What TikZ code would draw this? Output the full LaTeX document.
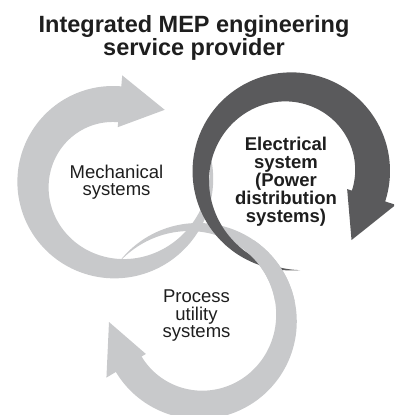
\documentclass[tikz,border=0pt]{standalone}
\usepackage{fontspec}
\setmainfont{Liberation Sans}
\definecolor{ringlight}{HTML}{C8C9CB}
\definecolor{ringdark}{HTML}{5A5A5C}
\definecolor{inktext}{HTML}{1E1E1E}

% Tapered circular arrow:
% #1 fill colour, #2 cx, #3 cy, #4 outer radius, #5 full width,
% #6 tail angle, #7 head angle, #8 outward drift of the thin tail
\newcommand\swirlarrow[8]{%
  \begin{scope}[shift={(#2,#3)}]
  \fill[#1]
    plot[domain=#6:#7, samples=140, variable=\t]
      ({(#4+#8*(1-(\t-#6)/(#7-#6))*(1-(\t-#6)/(#7-#6)))*cos(\t)},
       {(#4+#8*(1-(\t-#6)/(#7-#6))*(1-(\t-#6)/(#7-#6)))*sin(\t)})
    -- ({(#4+11)*cos(#7)}, {(#4+11)*sin(#7)})
    -- ({(#4-7)*cos(#7+31)}, {(#4-7)*sin(#7+31)})
    -- ({(#4-#5-5)*cos(#7)}, {(#4-#5-5)*sin(#7)})
    -- plot[domain=#7:#6, samples=140, variable=\t]
      ({(#4+#8*(1-(\t-#6)/(#7-#6))*(1-(\t-#6)/(#7-#6))-#5*sin(90*((\t-#6)/(#7-#6))))*cos(\t)},
       {(#4+#8*(1-(\t-#6)/(#7-#6))*(1-(\t-#6)/(#7-#6))-#5*sin(90*((\t-#6)/(#7-#6))))*sin(\t)})
    -- cycle;
  \end{scope}%
}

\tikzset{
  headline/.style={font=\bfseries\fontsize{23.5}{23.3}\selectfont, align=center,
    inner sep=0pt, text=inktext},
  ringlabel/.style={font=\fontsize{18.5}{17.5}\selectfont, align=center,
    inner sep=0pt, text=inktext},
  ringlabelbold/.style={ringlabel, font=\bfseries\fontsize{18.5}{18}\selectfont},
}

\begin{document}
\begin{tikzpicture}[x=1pt, y=-1pt]
  \useasboundingbox (0,0) rectangle (394,415);
  \begin{scope}
    \clip (0,0) rectangle (394,415);
    % mechanical ring
    \swirlarrow{ringlight}{113}{181}{95}{36}{339}{635}{6}
    % process utility ring
    \swirlarrow{ringlight}{199}{322}{97}{30}{216}{509}{3}
    % electrical ring
    \swirlarrow{ringdark}{291.5}{171}{98.5}{35}{85}{378}{1}
    % process ring passes over the electrical tail
    \begin{scope}
      \clip (245,240) rectangle (320,300);
      \swirlarrow{ringlight}{199}{322}{97}{30}{216}{509}{3}
    \end{scope}
  \end{scope}

  \node[headline] (title) at (194,37.7) {Integrated MEP engineering\\service provider};
  \node[ringlabel] (mech) at (116.5,182) {Mechanical\\systems};
  \node[ringlabelbold] (elec) at (286,181.4) {Electrical\\system\\(Power\\distribution\\systems)};
  \node[ringlabel] (proc) at (196.5,315.8) {Process\\utility\\systems};
\end{tikzpicture}
\end{document}
